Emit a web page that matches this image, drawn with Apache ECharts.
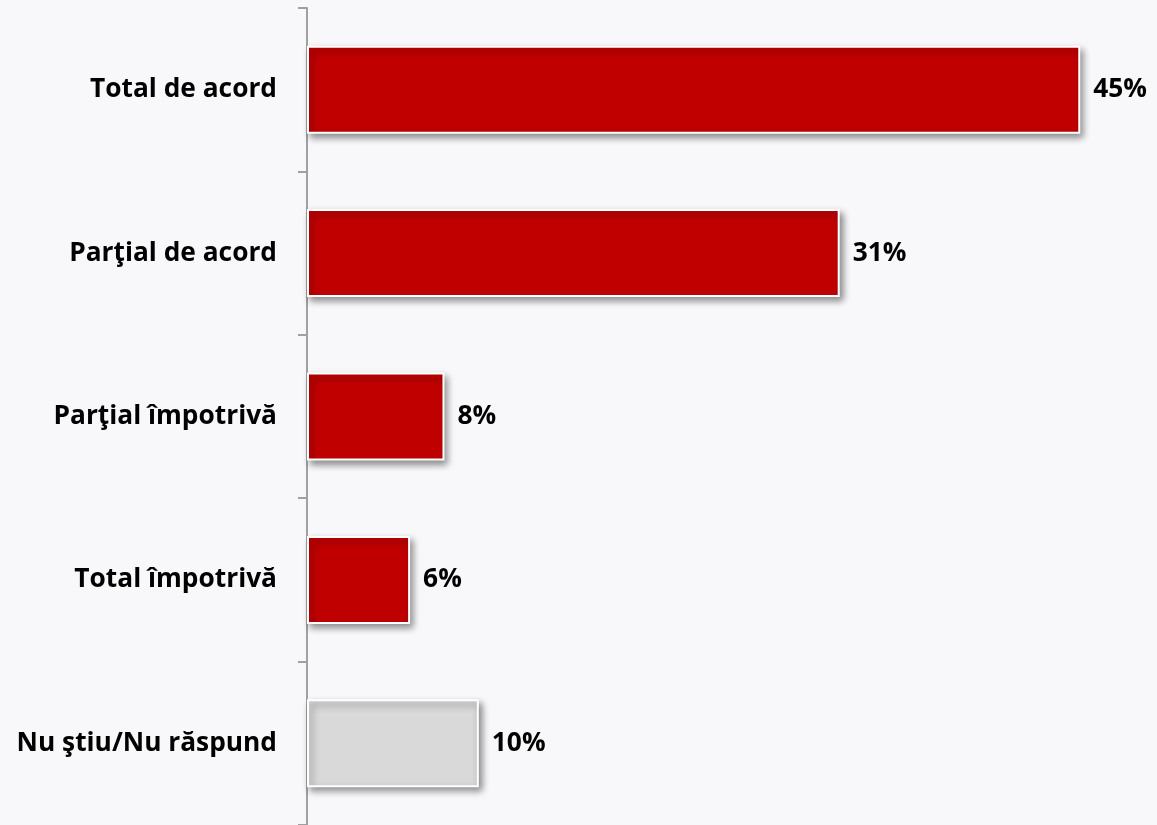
<!DOCTYPE html>
<html>
<head>
<meta charset="utf-8">
<script src="https://cdn.jsdelivr.net/npm/echarts@6/dist/echarts.min.js"></script>
<style>
  html, body { margin: 0; padding: 0; background: #f8f8fa; }
  #chart { width: 1157px; height: 825px; }
</style>
</head>
<body>
<div id="chart"></div>
<script>
// Answer categories, top to bottom
const categories = ['Total de acord', 'Parţial de acord', 'Parţial împotrivă', 'Total împotrivă', 'Nu ştiu/Nu răspund'];
// Share of respondents, percent
const values = [45, 31, 8, 6, 10];
// Fill per answer: agreement/disagreement in red, no answer in grey
const barColors = ['#c00000', '#c00000', '#c00000', '#c00000', '#d9d9d9'];

const chart = echarts.init(document.getElementById('chart'));
chart.setOption({
  backgroundColor: '#f8f8fa',
  animation: false,
  grid: { left: 307, right: 8, top: 8, bottom: 0, containLabel: false },
  xAxis: {
    type: 'value', min: 0, max: 49, show: false
  },
  yAxis: {
    type: 'category',
    inverse: true,
    data: categories,
    axisLine: { show: true, lineStyle: { color: '#a0a0a0', width: 2 } },
    axisTick: { show: true, length: 9, lineStyle: { color: '#a0a0a0', width: 2 } },
    axisLabel: {
      margin: 30,
      color: '#000',
      fontSize: 26.3,
      fontWeight: 'bold',
      fontFamily: '"Open Sans", sans-serif'
    }
  },
  series: [{
    type: 'bar',
    barWidth: 88,
    data: values.map((v, i) => ({
      value: v,
      itemStyle: { color: barColors[i] }
    })),
    itemStyle: {
      borderColor: '#ffffff',
      borderWidth: 2,
      shadowColor: 'rgba(0,0,0,0.45)',
      shadowBlur: 7,
      shadowOffsetX: 3,
      shadowOffsetY: 4
    },
    label: {
      show: true,
      position: 'right',
      distance: 13,
      formatter: '{c}%',
      color: '#000',
      fontSize: 26.3,
      fontWeight: 'bold',
      fontFamily: '"Open Sans", sans-serif'
    }
  }]
});
</script>
</body>
</html>
